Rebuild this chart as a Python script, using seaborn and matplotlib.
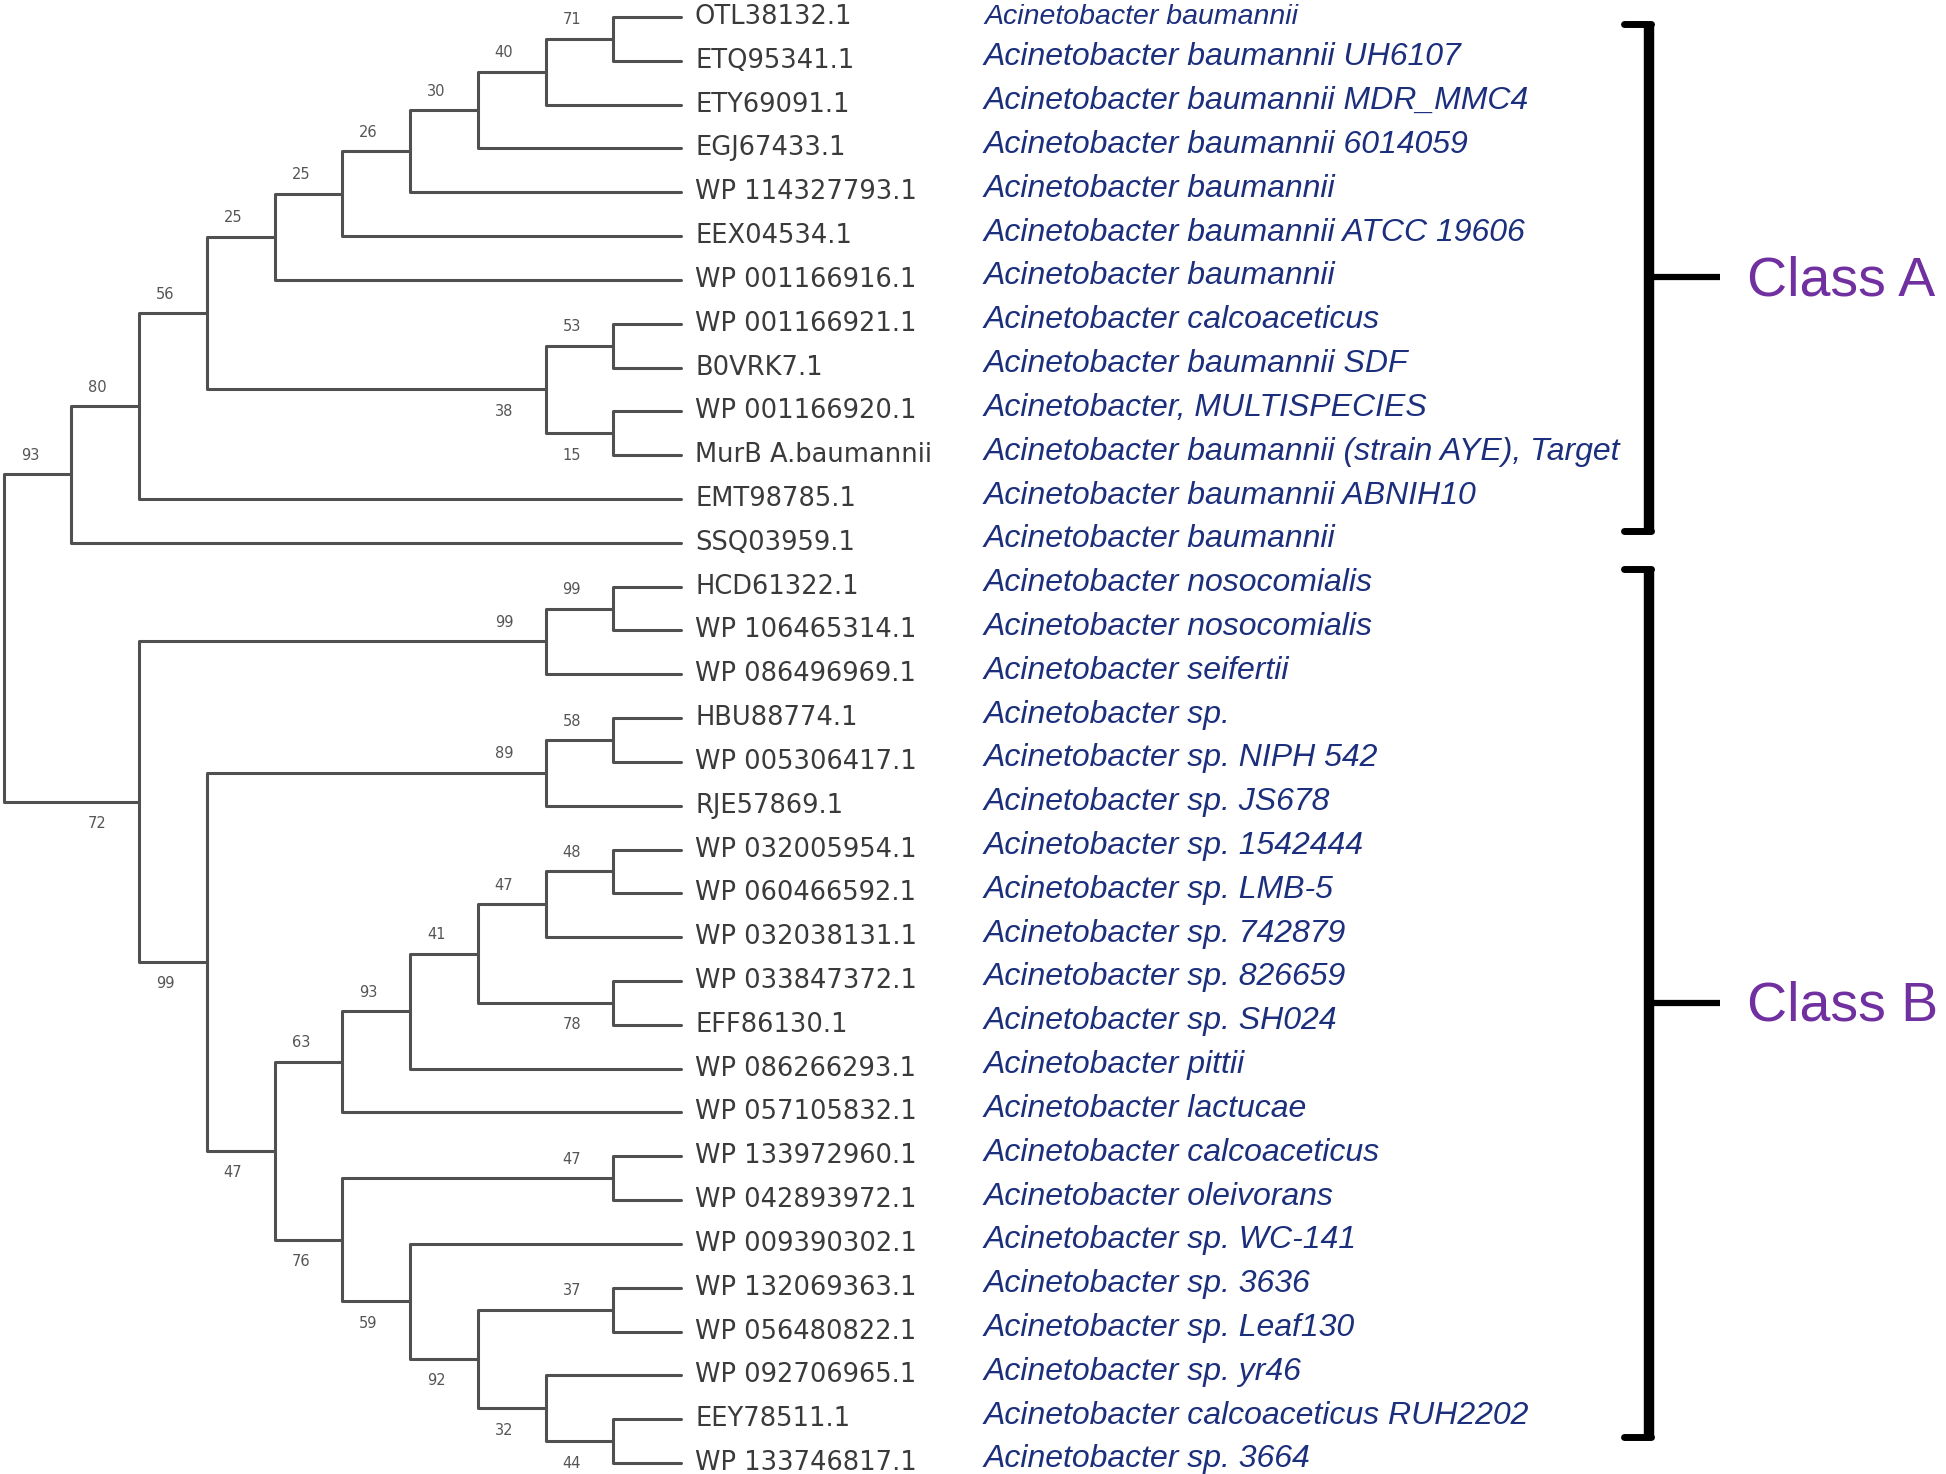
import matplotlib
matplotlib.use("Agg")
import matplotlib.pyplot as plt
import matplotlib.transforms as mtransforms
import seaborn as sns
import pandas as pd

# ---------------- data ----------------
accessions = [
    "OTL38132.1", "ETQ95341.1", "ETY69091.1", "EGJ67433.1", "WP 114327793.1",
    "EEX04534.1", "WP 001166916.1", "WP 001166921.1", "B0VRK7.1", "WP 001166920.1",
    "MurB A.baumannii", "EMT98785.1", "SSQ03959.1",
    "HCD61322.1", "WP 106465314.1", "WP 086496969.1", "HBU88774.1", "WP 005306417.1",
    "RJE57869.1", "WP 032005954.1", "WP 060466592.1", "WP 032038131.1", "WP 033847372.1",
    "EFF86130.1", "WP 086266293.1", "WP 057105832.1", "WP 133972960.1", "WP 042893972.1",
    "WP 009390302.1", "WP 132069363.1", "WP 056480822.1", "WP 092706965.1", "EEY78511.1",
    "WP 133746817.1",
]
species = [
    "Acinetobacter baumannii", "Acinetobacter baumannii UH6107",
    "Acinetobacter baumannii MDR_MMC4", "Acinetobacter baumannii 6014059",
    "Acinetobacter baumannii", "Acinetobacter baumannii ATCC 19606",
    "Acinetobacter baumannii", "Acinetobacter calcoaceticus",
    "Acinetobacter baumannii SDF", "Acinetobacter, MULTISPECIES",
    "Acinetobacter baumannii (strain AYE), Target", "Acinetobacter baumannii ABNIH10",
    "Acinetobacter baumannii",
    "Acinetobacter nosocomialis", "Acinetobacter nosocomialis", "Acinetobacter seifertii",
    "Acinetobacter sp.", "Acinetobacter sp. NIPH 542", "Acinetobacter sp. JS678",
    "Acinetobacter sp. 1542444", "Acinetobacter sp. LMB-5", "Acinetobacter sp. 742879",
    "Acinetobacter sp. 826659", "Acinetobacter sp. SH024", "Acinetobacter pittii",
    "Acinetobacter lactucae", "Acinetobacter calcoaceticus", "Acinetobacter oleivorans",
    "Acinetobacter sp. WC-141", "Acinetobacter sp. 3636", "Acinetobacter sp. Leaf130",
    "Acinetobacter sp. yr46", "Acinetobacter calcoaceticus RUH2202", "Acinetobacter sp. 3664",
]
# topology (leaf = index into the lists above) with bootstrap values on internal nodes
class_a_newick = "(((((((((0,1)71,2)40,3)30,4)26,5)25,6)25,((7,8)53,(9,10)15)38)56,11)80,12)93"
class_b_newick = ("(((13,14)99,15)99,(((16,17)58,18)89,((((((19,20)48,21)47,(22,23)78)41,24)93,25)63,"
                  "((26,27)47,(28,((29,30)37,(31,(32,33)44)32)92)59)76)47)99)72")
tree_newick = "(" + class_a_newick + "," + class_b_newick + ")"
class_names = ["Class A", "Class B"]
class_members = [list(range(0, 13)), list(range(13, 34))]

# ---------------- parse tree ----------------
def parse(s):
    pos = 0

    def node():
        nonlocal pos
        if s[pos] == "(":
            pos += 1
            kids = [node()]
            while s[pos] == ",":
                pos += 1
                kids.append(node())
            pos += 1  # ')'
            start = pos
            while pos < len(s) and s[pos] not in ",)":
                pos += 1
            return {"children": kids, "label": s[start:pos]}
        start = pos
        while s[pos] not in ",)":
            pos += 1
        return {"leaf": int(s[start:pos])}

    return node()


root = parse(tree_newick)


def height(n):
    if "leaf" in n:
        n["h"] = 0
    else:
        n["h"] = 1 + max(height(c) for c in n["children"])
    return n["h"]


H = height(root)


def place(n):
    n["x"] = H - n["h"]
    if "leaf" in n:
        n["y"] = n["leaf"]
    else:
        for c in n["children"]:
            place(c)
        n["y"] = (n["children"][0]["y"] + n["children"][-1]["y"]) / 2.0


place(root)

rows, boots = [], []
counter = [0]


def collect(n, side=None):
    if "leaf" in n:
        return
    nid = counter[0]
    counter[0] += 1
    c1, c2 = n["children"][0], n["children"][-1]
    for k, (xx, yy) in enumerate([(c1["x"], c1["y"]), (n["x"], c1["y"]),
                                  (n["x"], c2["y"]), (c2["x"], c2["y"])]):
        rows.append({"node": nid, "order": k, "x": xx, "y": yy})
    if n["label"] and side is not None:
        boots.append((n["label"], n["x"], n["y"], side))
    for i, c in enumerate(n["children"]):
        collect(c, "upper" if i == 0 else "lower")


collect(root)
seg_df = pd.DataFrame(rows)

# ---------------- figure ----------------
sns.set_theme(style="white")
W, Hpx = 1946, 1474
fig = plt.figure(figsize=(W / 100, Hpx / 100), dpi=100)
ax = fig.add_axes([0, 0, 1, 1])

sns.lineplot(data=seg_df, x="x", y="y", units="node", estimator=None, sort=False,
             color="#505050", linewidth=2.2, legend=False, ax=ax)

# axis scaling: root at 3.6px, tips at 681px; first leaf at 17px, last at 1463px
root_px, tip_px, top_px, bot_px = 3.6, 681.0, 17.0, 1463.0
sx = (tip_px - root_px) / H
sy = (bot_px - top_px) / (len(accessions) - 1)
xmin = -root_px / sx
ax.set_xlim(xmin, xmin + W / sx)
ymin = -top_px / sy
ax.set_ylim(ymin + Hpx / sy, ymin)
ax.axis("off")

# bootstrap values
for lab, bx, by, side in boots:
    dy = 19 if side == "upper" else -22
    ax.annotate(lab, (bx, by), xytext=(-41.5, dy), textcoords="offset pixels",
                ha="center", va="center", fontsize=10.5, color="#555555",
                family=["DejaVu Sans"])

# leaf labels
for i, (acc, sp) in enumerate(zip(accessions, species)):
    ax.annotate(acc, (H, i), xytext=(14, 0), textcoords="offset pixels",
                ha="left", va="center", fontsize=18.5, color="#3a3a3a",
                family=["DejaVu Sans"])
    first = (i == 0)
    ax.annotate(sp, (H, i), xytext=(303, 0 if first else 3.5), textcoords="offset pixels",
                ha="left", va="center", fontsize=20.5 if first else 23, color="#1c2f7c",
                style="italic", family=["Liberation Sans", "DejaVu Sans"])

# class brackets
bracket_pads = [(0.15, -0.26), (-0.4, -0.6)]
tr_v = mtransforms.offset_copy(ax.transData, fig=fig, x=968, y=0, units="dots")
tr_s = mtransforms.offset_copy(ax.transData, fig=fig, x=943, y=0, units="dots")
for name, members, (p0, p1) in zip(class_names, class_members, bracket_pads):
    top = min(members) + p0
    bot = max(members) + p1
    mid = (top + bot) / 2
    ax.plot([H, H], [top, bot], transform=tr_v, color="black", lw=7.5,
            solid_capstyle="butt")
    for yy in (top, bot):
        ax.plot([H, H + 27 / sx], [yy, yy], transform=tr_s, color="black",
                lw=5, solid_capstyle="round")
    ax.plot([H, H + 71 / sx], [mid, mid], transform=tr_v, color="black", lw=4.5,
            solid_capstyle="butt")
    ax.annotate(name, (H, mid), xytext=(1066, -4), textcoords="offset pixels",
                ha="left", va="center", fontsize=40, color="#7030A0",
                family=["Liberation Sans", "DejaVu Sans"])

fig.savefig("out.png", dpi=100)
